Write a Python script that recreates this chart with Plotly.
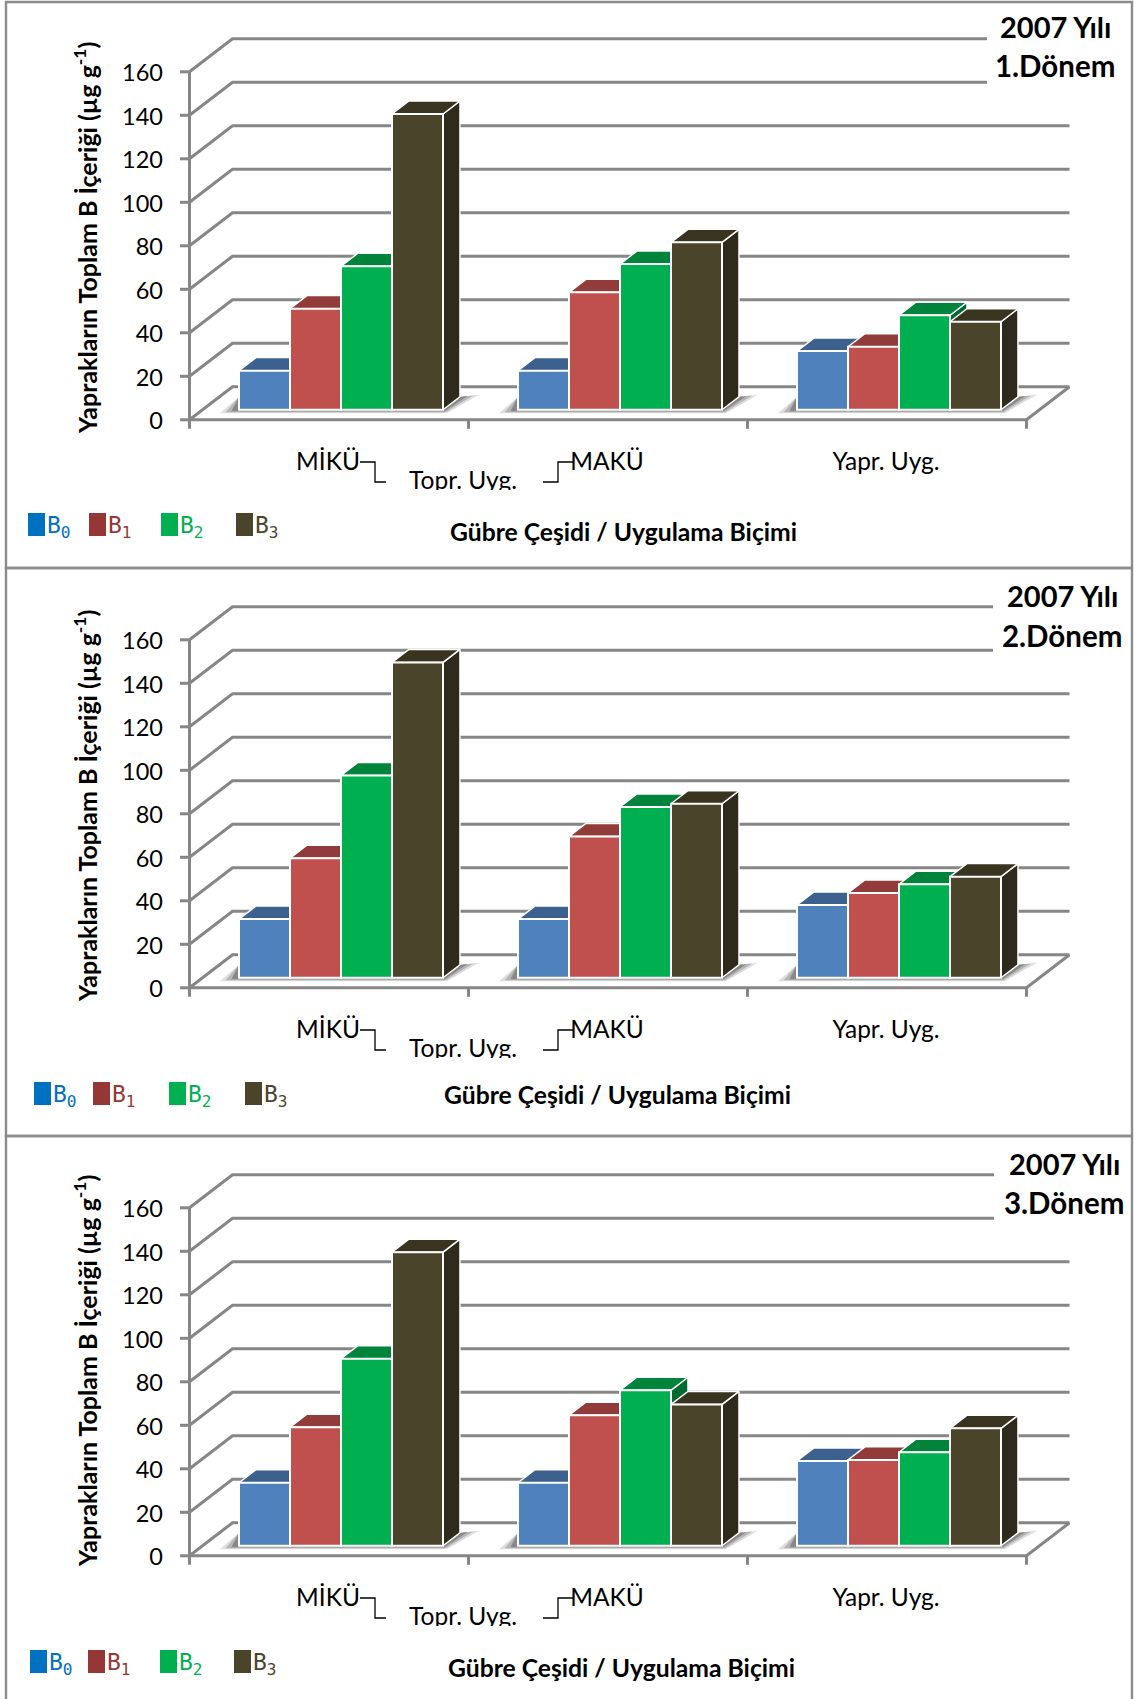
import plotly.graph_objects as go

CATEGORIES = ["MİKÜ", "MAKÜ", "Yapr. Uyg."]
SERIES = ["B0", "B1", "B2", "B3"]
P1_B0 = [18, 18, 27]
P1_B1 = [46.5, 54, 29]
P1_B2 = [66, 67, 43.5]
P1_B3 = [136, 77, 40.5]
P2_B0 = [27, 27, 33.5]
P2_B1 = [55, 65, 39]
P2_B2 = [93, 78.5, 43]
P2_B3 = [145, 80, 46.5]
P3_B0 = [29, 29, 39]
P3_B1 = [54.5, 60, 39.5]
P3_B2 = [86, 71.5, 43]
P3_B3 = [135, 65, 54]
PANEL_VALUES = [[P1_B0, P1_B1, P1_B2, P1_B3], [P2_B0, P2_B1, P2_B2, P2_B3], [P3_B0, P3_B1, P3_B2, P3_B3]]
Y_TICKS = [0, 20, 40, 60, 80, 100, 120, 140, 160]
YEAR = "2007 Yılı"
PERIODS = ["1.Dönem", "2.Dönem", "3.Dönem"]
Y_TITLE = "Yaprakların Toplam B İçeriği (µg g<sup>-1</sup>)"
X_TITLE = "Gübre Çeşidi / Uygulama Biçimi"

W, H = 1134, 1699
FONT = "Lato"
GREY = "#868686"
FRONT = ["#4F81BD", "#C0504D", "#00B050", "#4A452A"]
TOP = ["#3C618E", "#913C3A", "#00843C", "#383420"]
SIDE = ["#2F4D71", "#733030", "#006A30", "#2F2B1C"]
LEG = ["#0070C0", "#953735", "#00B050", "#4A452A"]

# pixel geometry of one panel (offset by panel y)
AX_L, CAT_W = 189.5, 279.0
ZERO_Y, PX_UNIT = 419.8, 348.0 / 160
DEPTH_X, DEPTH_Y = 43.0, 33.0
PLOT_L, PLOT_R, PLOT_T, PLOT_B = 170.0, 1075.0, 30.0, 490.0
PANEL_DY = [0, 568, 1136]
GRID_CUT = [987, 993, 994]
YTITLE_Y = [238, 806, 1371]
BAR_FRONT, BAR_BACK = 10.0 / 33, 23.0 / 33   # floor depth fractions of the front and back of a bar
BAR_W, BAR_X0 = 51.0, 239.0 - 189.5 - BAR_FRONT * DEPTH_X


def xd(px):
    return (px - AX_L) / CAT_W


def yd(px):
    return (ZERO_Y - px) / PX_UNIT


def project(cat, val, depth):
    return cat + depth * DEPTH_X / CAT_W, val + depth * DEPTH_Y / PX_UNIT


fig = go.Figure()
layout = dict(width=W, height=H, margin=dict(l=0, r=0, t=0, b=0), paper_bgcolor="white",
              plot_bgcolor="rgba(0,0,0,0)", showlegend=False, barmode="overlay")
annotations, shapes = [], []


def ann(x, y, text, size, color="black", bold=False, angle=0, family=FONT, xanchor="center"):
    annotations.append(dict(x=x / W, y=1 - y / H, xref="paper", yref="paper", text=f"<b>{text}</b>" if bold else text,
                            showarrow=False, xanchor=xanchor, yanchor="middle", textangle=angle,
                            font=dict(family=family, size=size, color=color)))


for p, values in enumerate(PANEL_VALUES):
    dy = PANEL_DY[p]
    a = 2 * p + 1
    b = 2 * p + 2
    xm, ym = f"x{a}", f"y{a}"
    xo, yo = f"x{b}", f"y{b}"
    xrange = [xd(PLOT_L), xd(PLOT_R)]
    yrange = [yd(PLOT_B), yd(PLOT_T)]
    dom_x = [PLOT_L / W, PLOT_R / W]
    dom_y = [1 - (PLOT_B + dy) / H, 1 - (PLOT_T + dy) / H]
    layout[f"xaxis{a}"] = dict(domain=dom_x, range=xrange, anchor=ym, showgrid=False, zeroline=False, showline=False,
                               showticklabels=False, ticks="")
    layout[f"yaxis{a}"] = dict(domain=dom_y, range=yrange, anchor=xm, showgrid=False, zeroline=False, showline=False,
                               tickmode="array", tickvals=Y_TICKS, ticktext=[str(t) for t in Y_TICKS], ticks="",
                               tickfont=dict(family=FONT, size=23.5, color="black"), ticklabelstandoff=6,
                               ticklabelshift=1)
    layout[f"xaxis{b}"] = dict(domain=dom_x, range=xrange, anchor=yo, overlaying=xm, visible=False)
    layout[f"yaxis{b}"] = dict(domain=dom_y, range=yrange, anchor=xo, overlaying=ym, visible=False)

    # walls: gridlines running back from the value axis
    back_x, back_dy = project(0, 0, 1)[0], project(0, 0, 1)[1]
    gx, gy = [], []
    for v in Y_TICKS:
        end = xd(GRID_CUT[p]) if v >= 140 else 3 + back_x
        gx += [0, back_x, end, None]
        gy += [v, v + back_dy, v + back_dy, None]
    fig.add_trace(go.Scatter(x=gx, y=gy, mode="lines", line=dict(color=GREY, width=3), hoverinfo="skip",
                             xaxis=xm, yaxis=ym))

    # floor shadows
    for c in range(3):
        x0 = c + (BAR_X0 + BAR_FRONT * DEPTH_X) / CAT_W
        x1 = x0 + 4 * BAR_W / CAT_W
        base = project(0, 0, BAR_FRONT)[1]
        rise = project(0, 0, BAR_BACK)[1]
        bx = x1 + (BAR_BACK - BAR_FRONT) * DEPTH_X / CAT_W
        for spread, alpha in [(1.0, 0.16), (0.7, 0.24), (0.4, 0.34)]:
            s = spread * 19 / CAT_W
            d = spread * 3.5 / PX_UNIT
            fig.add_trace(go.Scatter(x=[x0 - s, x1 + s * 0.2, bx + s, bx, x0, x0 - s],
                                     y=[base - d, base - d, rise + spread * 2 / PX_UNIT, rise, rise, base - d],
                                     mode="lines", fill="toself", line=dict(width=0),
                                     fillcolor=f"rgba(50,50,50,{alpha})", hoverinfo="skip", xaxis=xm, yaxis=ym))

    # value axis and category axis on top of the walls
    ax, ay = [0, 0, None], [0, 160, None]
    for v in Y_TICKS:
        ax += [xd(180), 0, None]
        ay += [v, v, None]
    ax += [0, 3, project(3, 0, 1)[0], None]
    ay += [0, 0, project(3, 0, 1)[1], None]
    for c in range(4):
        ax += [c, c, None]
        ay += [0, yd(ZERO_Y + 9), None]
    fig.add_trace(go.Scatter(x=ax, y=ay, mode="lines", line=dict(color=GREY, width=3), hoverinfo="skip",
                             xaxis=xm, yaxis=ym))

    # bar sides and tops, left to right; fronts go on the overlay axes above them
    for c in range(3):
        for s in range(4):
            v = values[s][c]
            left = c + (BAR_X0 + s * BAR_W) / CAT_W
            right = left + BAR_W / CAT_W
            pts_top = [project(left, v, BAR_FRONT), project(right, v, BAR_FRONT),
                       project(right, v, BAR_BACK), project(left, v, BAR_BACK), project(left, v, BAR_FRONT)]
            pts_side = [project(right, 0, BAR_FRONT), project(right, 0, BAR_BACK), project(right, v, BAR_BACK),
                        project(right, v, BAR_FRONT), project(right, 0, BAR_FRONT)]
            for pts, col in ((pts_side, SIDE[s]), (pts_top, TOP[s])):
                fig.add_trace(go.Scatter(x=[q[0] for q in pts], y=[q[1] for q in pts], mode="lines", fill="toself",
                                         fillcolor=col, line=dict(color="white", width=1.4), hoverinfo="skip",
                                         xaxis=xm, yaxis=ym))

    base_val = project(0, 0, BAR_FRONT)[1]
    for s in range(4):
        xs = [project(c + (BAR_X0 + (s + 0.5) * BAR_W) / CAT_W, 0, BAR_FRONT)[0] for c in range(3)]
        fig.add_trace(go.Bar(x=xs, y=values[s], base=base_val, width=BAR_W / CAT_W, name=SERIES[s],
                             marker=dict(color=FRONT[s], line=dict(color="white", width=2)),
                             xaxis=xo, yaxis=yo))

    # category labels as clipped text (the lowest label is cut by the chart frame in the original)
    lab_x = [xd(328), xd(463), xd(607), xd(886)]
    lab_y = [yd(464), yd(483), yd(464), yd(464)]
    lab_t = [CATEGORIES[0], "Topr. Uyg.", CATEGORIES[1], CATEGORIES[2]]
    fig.add_trace(go.Scatter(x=lab_x, y=lab_y, text=lab_t, mode="text", textposition="middle center",
                             textfont=dict(family=FONT, size=24.5, color="black"), hoverinfo="skip",
                             cliponaxis=True, xaxis=xm, yaxis=ym))
    brx = [xd(360), xd(375), xd(375), xd(386), None, xd(543), xd(558), xd(558), xd(574)]
    bry = [yd(462), yd(462), yd(482), yd(482), None, yd(482), yd(482), yd(462), yd(462)]
    fig.add_trace(go.Scatter(x=brx, y=bry, mode="lines", line=dict(color="black", width=1.3), hoverinfo="skip",
                             xaxis=xm, yaxis=ym))

    ann(85, YTITLE_Y[p], Y_TITLE, 25, bold=True, angle=-90)

# panel frames (the last one runs off the page)
for y0, y1 in [(2, 568), (568, 1136), (1136, 1710)]:
    shapes.append(dict(type="rect", xref="paper", yref="paper", x0=6 / W, x1=1132 / W, y0=1 - y0 / H, y1=1 - y1 / H,
                       line=dict(color="#8C8C8C", width=2.4), layer="below"))

# period titles
for (tx, y1, y2), per in zip([(1055, 27, 66), (1062, 596, 635), (1064, 1163, 1202)], PERIODS):
    ann(tx, y1, YEAR, 29, bold=True)
    ann(tx, y2, per, 29.5, bold=True)

# x titles
for (tx, ty) in [(623, 531), (617, 1094), (621, 1667)]:
    ann(tx, ty, X_TITLE, 24.7, bold=True)

# legends
LEG_POS = [([28, 89, 161, 236], 513), ([34, 93, 169, 245], 1082), ([30, 88, 160, 234], 1650)]
for xs, ty in LEG_POS:
    for s, x in enumerate(xs):
        shapes.append(dict(type="rect", xref="paper", yref="paper", x0=x / W, x1=(x + 17) / W, y0=1 - ty / H,
                           y1=1 - (ty + 23) / H, line=dict(width=0), fillcolor=LEG[s]))
        ann(x + 17, ty + 14, f"B<sub>{s}</sub>", 23, color=LEG[s], family="DejaVu Sans Mono", xanchor="left")

layout["annotations"] = annotations
layout["shapes"] = shapes
fig.update_layout(**layout)
fig.write_html("out.html", config={"displayModeBar": False},
               post_script="document.body.style.margin='0';")
